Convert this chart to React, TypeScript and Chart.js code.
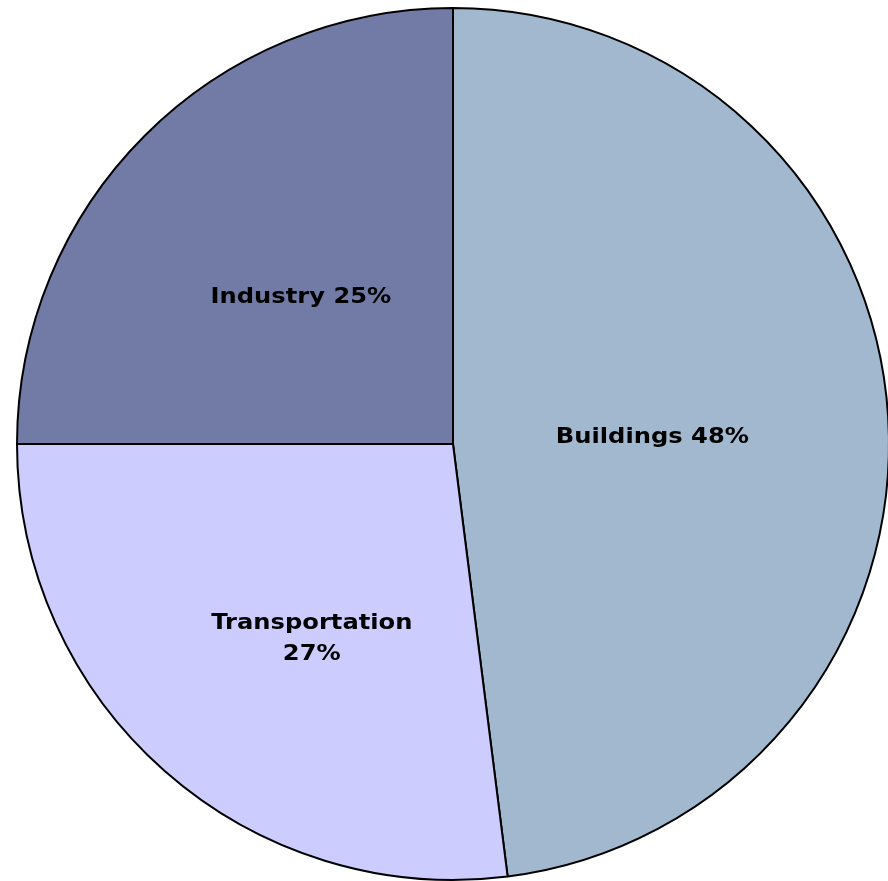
import React, { useEffect, useRef } from "react";
import { Chart, registerables } from "chart.js";

Chart.register(...registerables);

const categories = ["Buildings", "Transportation", "Industry"];
const shares = [48, 27, 25];
const sliceColors = ["#A2B8CE", "#CCCCFF", "#717BA6"];
const labelLines = [["Buildings 48%"], ["Transportation", "27%"], ["Industry 25%"]];
const labelRadiusFraction = [0.456, 0.5, 0.49];
const labelShift = [[1, 6], [3, 31], [-1, 4]];

const labelPlugin = {
  id: "sliceLabels",
  afterDatasetsDraw(chart: any) {
    const ctx = chart.ctx;
    const meta = chart.getDatasetMeta(0);
    meta.data.forEach((arc: any, i: number) => {
      const { x, y, startAngle, endAngle, outerRadius } = arc.getProps(
        ["x", "y", "startAngle", "endAngle", "outerRadius"],
        true
      );
      const mid = (startAngle + endAngle) / 2;
      const r = outerRadius * labelRadiusFraction[i];
      const cx = x + Math.cos(mid) * r + labelShift[i][0];
      const cy = y + Math.sin(mid) * r + labelShift[i][1];
      const lines = labelLines[i];
      const lh = 31;
      lines.forEach((ln, j) => {
        ctx.save();
        ctx.font = "bold 22px 'DejaVu Sans'";
        ctx.fillStyle = "#000";
        ctx.textAlign = "center";
        ctx.textBaseline = "middle";
        ctx.translate(cx, cy + (j - (lines.length - 1) / 2) * lh);
        ctx.scale(1.1, 1);
        ctx.fillText(ln, 0, 0);
        ctx.restore();
      });
    });
  },
};

export default function App() {
  const ref = useRef<HTMLCanvasElement>(null);
  useEffect(() => {
    document.body.style.margin = "0";
    document.body.style.overflow = "hidden";
    const chart = new Chart(ref.current!, {
      type: "pie",
      data: {
        labels: categories,
        datasets: [
          {
            data: shares,
            backgroundColor: sliceColors,
            borderColor: "#000",
            borderWidth: 2,
          },
        ],
      },
      options: {
        responsive: false,
        animation: false,
        layout: { padding: 7 },
        plugins: {
          legend: { display: false },
          tooltip: { enabled: false },
        },
      },
      plugins: [labelPlugin],
    });
    return () => chart.destroy();
  }, []);
  return (
    <div style={{ position: "absolute", left: 0, top: 0, width: 888, height: 881, overflow: "hidden", background: "#fff" }}>
      <canvas ref={ref} width={906} height={888} style={{ width: 906, height: 888, display: "block" }} />
    </div>
  );
}
